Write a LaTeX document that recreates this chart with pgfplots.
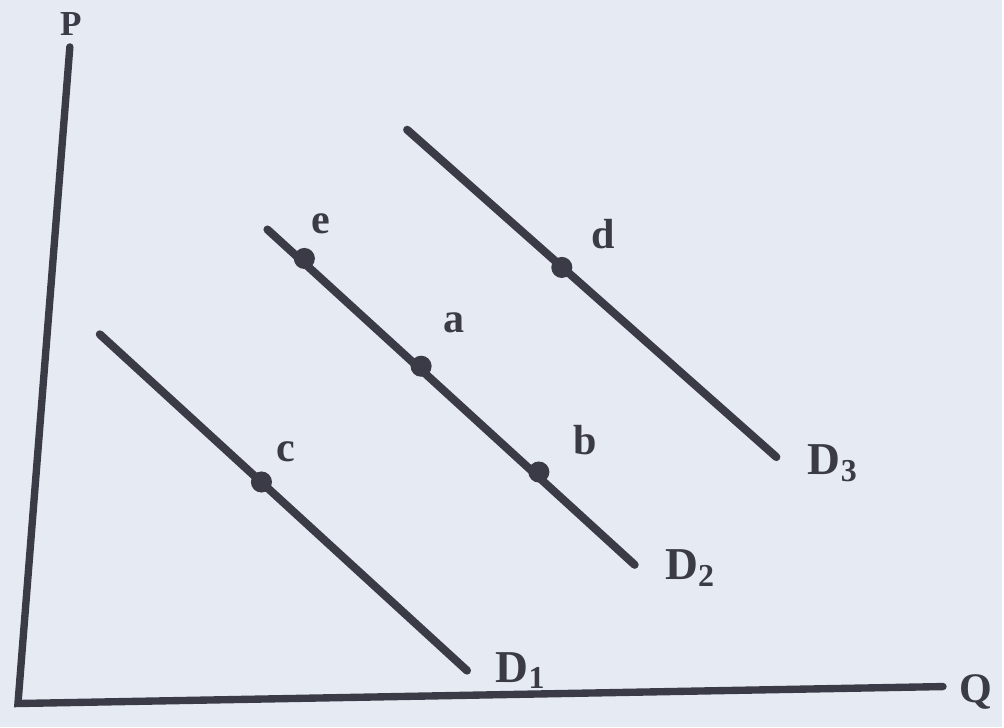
\documentclass[border=0pt]{standalone}
\usepackage{pgfplots}
\pgfplotsset{compat=1.18}
\usepackage{fontspec}
\setmainfont{Liberation Serif}
\definecolor{paper}{HTML}{E6EAF2}
\definecolor{ink}{HTML}{3A3B47}

\begin{document}
\begin{tikzpicture}
\begin{axis}[
    width=10.04cm, height=7.29cm,
    scale only axis,
    xmin=0, xmax=1004, ymin=0, ymax=729,
    hide axis,
    clip=false,
]
    % paper background
    \fill[paper] (axis cs:0,0) rectangle (axis cs:1004,729);

    % P and Q axes (pixel coords, y flipped)
    \addplot[ink, line width=2.1pt, line cap=round] coordinates {
        (70,682) (18,24) (945,41)
    };

    % demand curves
    \addplot[ink, line width=2.3pt, line cap=round] coordinates {(100,394) (468,57)};
    \addplot[ink, line width=2.3pt, line cap=round] coordinates {(268,499) (636,163)};
    \addplot[ink, line width=2.3pt, line cap=round] coordinates {(408,599) (778,271)};

    % points on curves
    \addplot[only marks, mark=*, mark size=2.8pt, ink] coordinates {
        (305,470) (422,362) (540,256) (262,246) (563,461)
    };

    % labels
    \begin{scope}[every node/.style={font=\bfseries\fontsize{12}{12}\selectfont, text=ink}]
    \node[font=\bfseries\fontsize{10}{10}\selectfont] at (axis cs:71,705) {P};
    \node at (axis cs:978,36) {Q};
    \node at (axis cs:322,505) {e};
    \node at (axis cs:455,405) {a};
    \node at (axis cs:586,288) {b};
    \node at (axis cs:286,276) {c};
    \node at (axis cs:604,494) {d};
    \end{scope}
    \begin{scope}[every node/.style={font=\bfseries\fontsize{13}{13}\selectfont, text=ink}]
    \node at (axis cs:522,57) {D$_{\mathbf{1}}$};
    \node at (axis cs:692,160) {D$_{\mathbf{2}}$};
    \node at (axis cs:835,265) {D$_{\mathbf{3}}$};
    \end{scope}
\end{axis}
\end{tikzpicture}
\end{document}
